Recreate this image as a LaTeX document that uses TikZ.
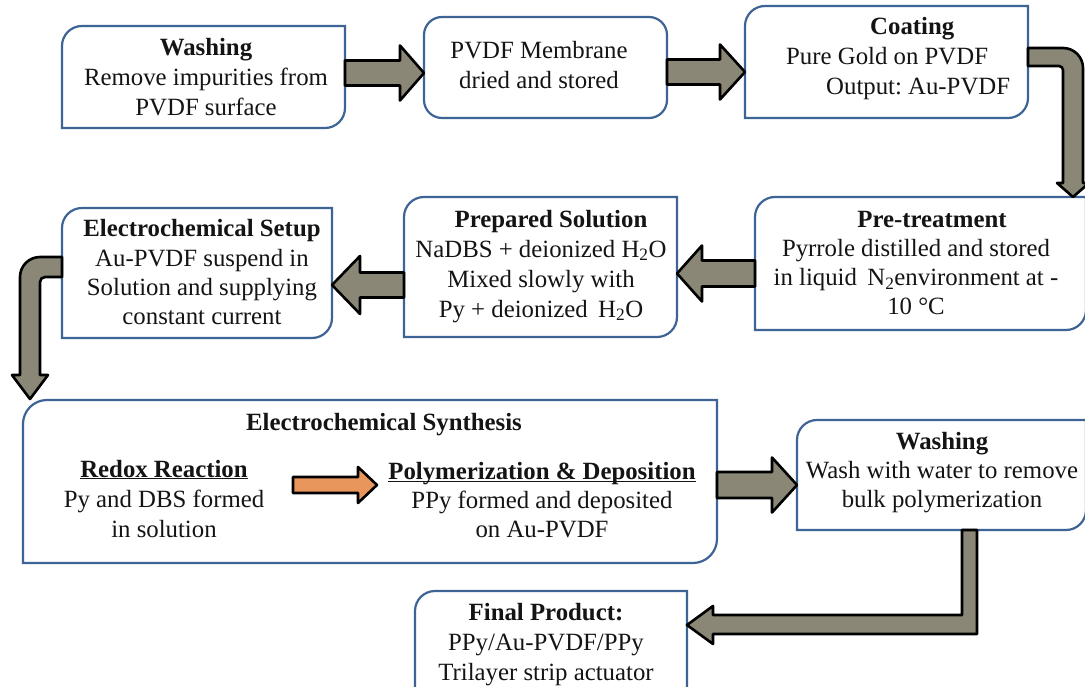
\documentclass[tikz,border=0pt]{standalone}
\usepackage{fontspec}
\setmainfont{Liberation Serif}
\usetikzlibrary{calc}
\frenchspacing
\definecolor{boxblue}{RGB}{62,100,150}
\definecolor{arrowgrey}{RGB}{138,135,118}
\definecolor{arroworange}{RGB}{232,150,92}
\definecolor{ink}{RGB}{20,20,20}
\newcommand\myuline[1]{\underline{\smash{#1}}}
% box with rounded top-left and bottom-right corners
\newcommand\diagbox[2]{\draw[boxline] (#1.south west) -- ($(#1.north west)+(0pt,-#2)$) arc[start angle=180,end angle=90,radius=#2] -- (#1.north east) -- ($(#1.south east)+(0pt,#2)$) arc[start angle=0,end angle=-90,radius=#2] -- cycle;}
% right-pointing block arrow: style, start, tip, shaft half, head half, head length
\newcommand\rarrow[6]{\draw[#1] let \p1=#2, \p2=#3 in (\x1,\y1+#4) -- (\x2-#6,\y1+#4) -- (\x2-#6,\y1+#5) -- (\x2,\y1) -- (\x2-#6,\y1-#5) -- (\x2-#6,\y1-#4) -- (\x1,\y1-#4) -- cycle;}
% left-pointing block arrow
\newcommand\larrow[6]{\draw[#1] let \p1=#2, \p2=#3 in (\x1,\y1+#4) -- (\x2+#6,\y1+#4) -- (\x2+#6,\y1+#5) -- (\x2,\y1) -- (\x2+#6,\y1-#5) -- (\x2+#6,\y1-#4) -- (\x1,\y1-#4) -- cycle;}
\begin{document}
\begin{tikzpicture}[x=1pt,y=-1pt,
  boxline/.style={draw=boxblue,line width=2.2pt,fill=white},
  boxn/.style={inner sep=0pt,outer sep=0pt,anchor=north west},
  txt/.style={font=\fontsize{24.8}{30}\selectfont\frenchspacing,align=center,inner sep=0pt,anchor=north,text=ink},
  blockarrow/.style={draw=black,line width=2.6pt,line join=round,fill=arrowgrey},
  orangearrow/.style={blockarrow,fill=arroworange}]

\fill[white] (0,0) rectangle (1085,687);
\useasboundingbox (0,0) rectangle (1085,687);

% ---------- boxes ----------
\node[boxn,minimum width=283pt,minimum height=102pt] (w1) at (62,26) {};
\node[boxn,minimum width=243pt,minimum height=101pt,draw=boxblue,line width=2.2pt,rounded corners=18pt,fill=white] (m) at (424,17) {};
\node[boxn,minimum width=283pt,minimum height=112pt] (c) at (745,6) {};
\node[boxn,minimum width=331pt,minimum height=133pt] (p) at (755,197) {};
\node[boxn,minimum width=273pt,minimum height=140pt] (s) at (404,197) {};
\node[boxn,minimum width=270pt,minimum height=130pt] (e) at (62,208) {};
\node[boxn,minimum width=694pt,minimum height=163pt] (y) at (23,400) {};
\node[boxn,minimum width=289pt,minimum height=110pt] (w2) at (797,420) {};
\node[boxn,minimum width=272pt,minimum height=115pt] (f) at (415,591) {};
\diagbox{w1}{20pt}
\diagbox{c}{20pt}
\diagbox{p}{20pt}
\diagbox{s}{20pt}
\diagbox{e}{20pt}
\diagbox{y}{24pt}
\diagbox{w2}{20pt}
\diagbox{f}{20pt}

% ---------- texts ----------
\node[txt] (tw1) at (206,34) {\strut\textbf{Washing}\\\strut Remove impurities from\\\strut PVDF surface};
\node[txt] (tm) at (539,37) {\strut PVDF Membrane\\\strut dried and stored};
\node[txt,align=left,anchor=north west] (tc) at (786,13) {\strut\hspace*{84pt}\textbf{Coating}\\\strut Pure Gold on PVDF\\\strut\hspace*{40pt}Output: Au-PVDF};
\node[txt,font=\fontsize{24.8}{29}\selectfont\frenchspacing] (tp) at (916,207) {\strut\hspace*{32pt}\textbf{Pre-treatment}\\\strut Pyrrole distilled and stored\\\strut in liquid \,N\textsubscript{2}environment at -\\\strut 10 °C};
\node[txt] (ts) at (541,206) {\strut\hspace*{20pt}\textbf{Prepared Solution}\\\strut NaDBS + deionized H\textsubscript{2}O\\\strut Mixed slowly with\\\strut Py + deionized \,H\textsubscript{2}O};
\node[txt,font=\fontsize{24.8}{29.3}\selectfont\frenchspacing] (te) at (202,216) {\strut\textbf{Electrochemical Setup}\\\strut Au-PVDF suspend in\\\strut Solution and supplying\\\strut constant current};
\node[txt] (tys) at (384,409) {\strut\textbf{Electrochemical Synthesis}};
\node[txt] (tr) at (164,456) {\strut\myuline{\textbf{Redox Reaction}}\\\strut Py and DBS formed\\\strut in solution};
\node[txt,font=\fontsize{24.8}{29}\selectfont\frenchspacing] (tpd) at (542,459) {\strut\myuline{\textbf{Polymerization \& Deposition}}\\\strut PPy formed and deposited\\\strut on Au-PVDF};
\node[txt,font=\fontsize{24.8}{29}\selectfont\frenchspacing] (tw2) at (942,429) {\strut\textbf{Washing}\\\strut Wash with water to remove\\\strut bulk polymerization};
\node[txt] (tf) at (546,599) {\strut\textbf{Final Product:}\\\strut PPy/Au-PVDF/PPy\\\strut Trilayer strip actuator};

% ---------- connectors ----------
\rarrow{blockarrow}{(w1.east |- 0,73)}{(m.west |- 0,73)}{12.5pt}{27.5pt}{24pt}
\rarrow{blockarrow}{(m.east |- 0,72)}{(c.west |- 0,72)}{12.5pt}{27.5pt}{25pt}
\draw[blockarrow] (c.east |- 0,48) -- (1063,48) arc[start angle=90,end angle=0,radius=20pt]
  -- (1083,183) -- (1089,183) -- (p.north -| 1073,0) -- (1057,183) -- (1063,183)
  -- (1063,70) arc[start angle=0,end angle=90,radius=4pt] -- (c.east |- 0,66) -- cycle;
\larrow{blockarrow}{(p.west |- 0,273.5)}{(s.east |- 0,273.5)}{13pt}{28pt}{25pt}
\larrow{blockarrow}{(s.west |- 0,285)}{(e.east |- 0,285)}{12.5pt}{29pt}{28pt}
\draw[blockarrow] (e.west |- 0,257) -- (40,257) arc[start angle=90,end angle=180,radius=20pt]
  -- (20,375) -- (12,375) -- (30,399) -- (48,375) -- (40,375)
  -- (40,282) arc[start angle=180,end angle=90,radius=5pt] -- (e.west |- 0,277) -- cycle;
\rarrow{blockarrow}{(y.east |- 0,485)}{(w2.west |- 0,485)}{13pt}{27.5pt}{25pt}
\draw[blockarrow] (w2.south -| 962,0) -- (962,615) -- (713,615) -- (713,606) -- (f.east |- 0,625)
  -- (713,644) -- (713,634) -- (977,634) -- (w2.south -| 977,0) -- cycle;
\coordinate (o1) at (293,485);
\coordinate (o2) at (377,485);
\rarrow{orangearrow}{(o1)}{(o2)}{8pt}{18pt}{19pt}
\end{tikzpicture}
\end{document}
